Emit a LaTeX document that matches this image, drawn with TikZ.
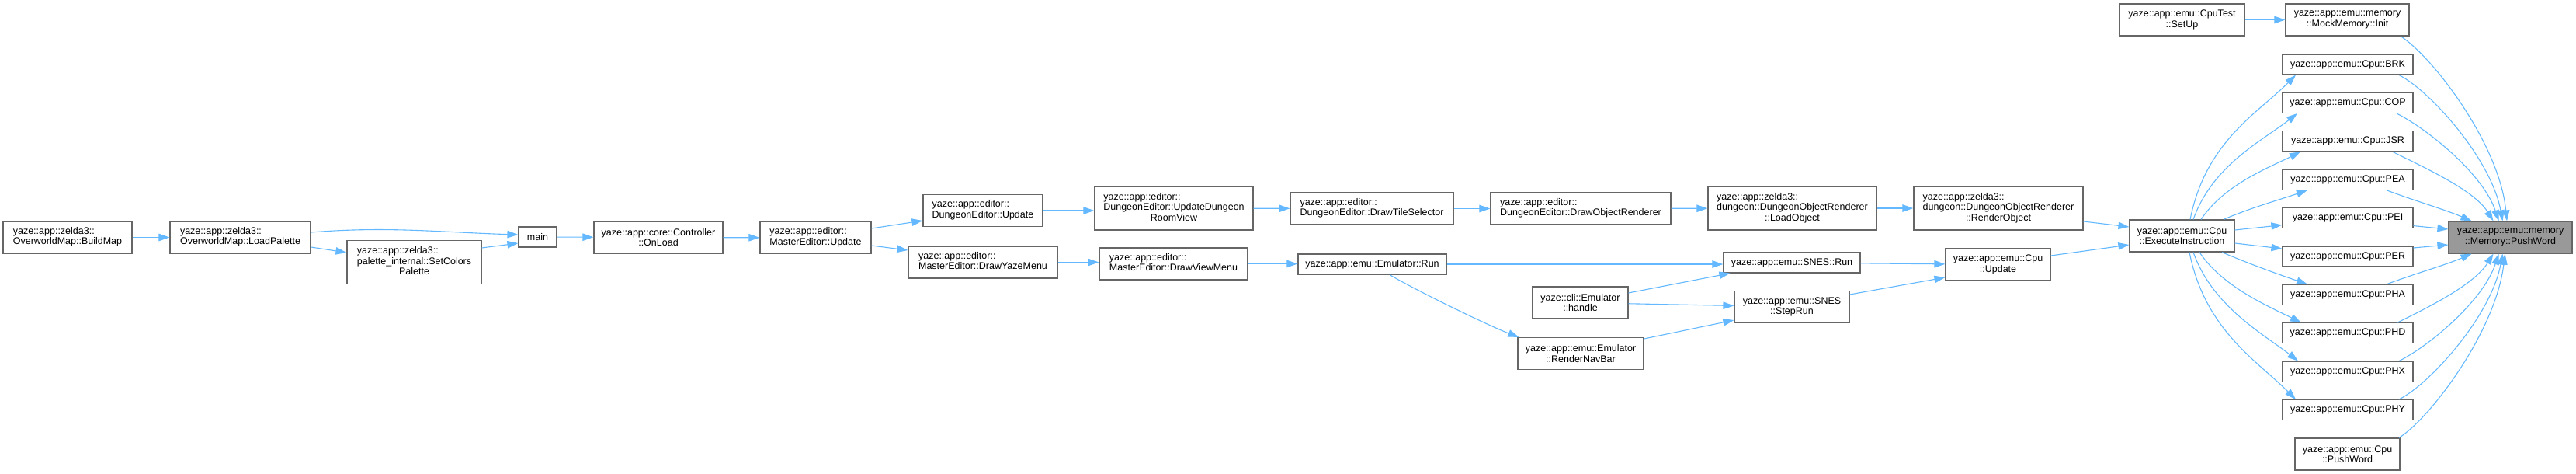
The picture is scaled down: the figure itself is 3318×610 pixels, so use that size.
\documentclass[tikz,border=0pt]{standalone}
\usepackage{fontspec}
\setmainfont{Liberation Sans}
\usepackage{tikz}
\usetikzlibrary{arrows.meta}
\definecolor{edgeblue}{HTML}{63B8FF}
\definecolor{boxborder}{HTML}{666666}
\definecolor{hlfill}{HTML}{999999}
\newcommand{\fnfont}{\fontsize{12.5}{13.5}\selectfont}
% first lines left, last line centred (as doxygen does)
\newcommand{\fnlabel}[1]{\begin{tabular}{@{}l@{}}#1\end{tabular}}
\newcommand{\ctrline}[1]{\multicolumn{1}{@{}c@{}}{#1}}
\tikzset{
  % plain function box
  fnbox/.style={draw=boxborder, fill=white, line width=1.2pt,
                inner sep=0pt, font=\fnfont, align=center},
  % the function the graph is about
  hlbox/.style={fnbox, fill=hlfill},
  one/.style={minimum height=26pt},
  two/.style={minimum height=41pt},
  three/.style={minimum height=56pt},
  wd/.style={minimum width=#1},
  callarrow/.style={draw=edgeblue, line width=1.1pt,
                    -{Triangle[length=14pt,width=9.5pt]}},
}

\begin{document}
\begin{tikzpicture}[x=1pt,y=-1pt]
  \useasboundingbox (0,0) rectangle (3318,610);
  % callers, left to right
  \node[fnbox, two, wd=166pt]   (buildmap)  at (87,305.5)
    {\fnlabel{yaze::app::zelda3::\\OverworldMap::BuildMap}};
  \node[fnbox, two, wd=181pt]   (loadpal)   at (309.5,305.5)
    {\fnlabel{yaze::app::zelda3::\\OverworldMap::LoadPalette}};
  \node[fnbox, three, wd=173pt] (setcolors) at (533.5,337.5)
    {\fnlabel{yaze::app::zelda3::\\palette\_internal::SetColors\\\ctrline{Palette}}};
  \node[fnbox, one, wd=49pt]    (main)      at (692.5,305) {main};
  \node[fnbox, two, wd=166pt]   (onload)    at (848,305.5)
    {yaze::app::core::Controller\\::OnLoad};
  \node[fnbox, two, wd=143pt]   (meupdate)  at (1050.5,306)
    {\fnlabel{yaze::app::editor::\\MasterEditor::Update}};
  \node[fnbox, two, wd=154pt]   (deupdate)  at (1266,271)
    {\fnlabel{yaze::app::editor::\\DungeonEditor::Update}};
  \node[fnbox, two, wd=192pt]   (yazemenu)  at (1266,337.5)
    {\fnlabel{yaze::app::editor::\\MasterEditor::DrawYazeMenu}};
  \node[fnbox, three, wd=204pt] (roomview)  at (1512,268)
    {\fnlabel{yaze::app::editor::\\DungeonEditor::UpdateDungeon\\\ctrline{RoomView}}};
  \node[fnbox, two, wd=191pt]   (viewmenu)  at (1511.5,339.5)
    {\fnlabel{yaze::app::editor::\\MasterEditor::DrawViewMenu}};
  \node[fnbox, two, wd=210pt]   (tilesel)   at (1767,268.5)
    {\fnlabel{yaze::app::editor::\\DungeonEditor::DrawTileSelector}};
  \node[fnbox, two, wd=232pt]   (objrend)   at (2036,268.5)
    {\fnlabel{yaze::app::editor::\\DungeonEditor::DrawObjectRenderer}};
  \node[fnbox, three, wd=217pt] (loadobj)   at (2308.5,268)
    {\fnlabel{yaze::app::zelda3::\\dungeon::DungeonObjectRenderer\\\ctrline{::LoadObject}}};
  \node[fnbox, three, wd=218pt] (renderobj) at (2574,268)
    {\fnlabel{yaze::app::zelda3::\\dungeon::DungeonObjectRenderer\\\ctrline{::RenderObject}}};
  \node[fnbox, one, wd=191pt]   (emurun)    at (1767.5,340)
    {yaze::app::emu::Emulator::Run};
  \node[fnbox, two, wd=123pt]   (handle)    at (2035.5,389.5)
    {yaze::cli::Emulator\\::handle};
  \node[fnbox, two, wd=162pt]   (navbar)    at (2036,455)
    {yaze::app::emu::Emulator\\::RenderNavBar};
  \node[fnbox, one, wd=176pt]   (snesrun)   at (2308,338)
    {yaze::app::emu::SNES::Run};
  \node[fnbox, two, wd=148pt]   (steprun)   at (2308,395)
    {yaze::app::emu::SNES\\::StepRun};
  \node[fnbox, two, wd=135pt]   (cpuupdate) at (2573.5,340.5)
    {yaze::app::emu::Cpu\\::Update};
  \node[fnbox, two, wd=135pt]   (exec)      at (2810.5,303.5)
    {yaze::app::emu::Cpu\\::ExecuteInstruction};
  \node[fnbox, two, wd=161pt]   (setup)     at (2810.5,25.5)
    {yaze::app::emu::CpuTest\\::SetUp};
  \node[fnbox, two, wd=159pt]   (mockinit)  at (3023.5,25.5)
    {yaze::app::emu::memory\\::MockMemory::Init};
  \foreach \op [count=\i from 0] in {BRK,COP,JSR,PEA,PEI,PER,PHA,PHD,PHX,PHY}
    \node[fnbox, one, wd=168pt] (cpu\op) at (3024,{83+49.4*\i})
      {yaze::app::emu::Cpu::\op};
  \node[fnbox, two, wd=135pt]   (cpupush)   at (3023.5,584.5)
    {yaze::app::emu::Cpu\\::PushWord};
  \node[hlbox, two, wd=159pt]   (memword)   at (3233.5,305.5)
    {yaze::app::emu::memory\\::Memory::PushWord};

  % call edges
  \draw[callarrow] (buildmap) -- (loadpal);
  \draw[callarrow] ([yshift=6.5pt]loadpal.east)
    .. controls +(100,-8) and +(-100,-3) .. ([yshift=3pt]main.west);
  \draw[callarrow] ([yshift=-12.5pt]loadpal.east) -- ([yshift=12.5pt]setcolors.west);
  \draw[callarrow] ([yshift=18.5pt]setcolors.east) -- ([yshift=-8pt]main.west);
  \draw[callarrow] (main) -- (onload);
  \draw[callarrow] (onload) -- (meupdate);
  \draw[callarrow] ([yshift=12pt]meupdate.east) -- ([yshift=-13pt]deupdate.west);
  \draw[callarrow] ([yshift=-10pt]meupdate.east) -- ([yshift=15.5pt]yazemenu.west);
  \draw[callarrow] (deupdate.east) -- (deupdate.east -| roomview.west);
  \draw[callarrow] (yazemenu.east) -- (yazemenu.east -| viewmenu.west);
  \draw[callarrow] (roomview) -- (tilesel);
  \draw[callarrow] (tilesel) -- (objrend);
  \draw[callarrow] (objrend) -- (loadobj);
  \draw[callarrow] (loadobj) -- (renderobj);
  \draw[callarrow] ([yshift=-17pt]renderobj.east) -- ([yshift=11.5pt]exec.west);
  \draw[callarrow] (viewmenu.east) -- (viewmenu.east -| emurun.west);
  \draw[callarrow] (emurun.east) -- (emurun.east -| snesrun.west);
  \draw[callarrow] ([xshift=22.5pt]emurun.south)
    .. controls +(30,18) and +(-40,-15) .. ([xshift=2pt]navbar.north west);
  \draw[callarrow] ([yshift=12.5pt]handle.east) -- ([xshift=9pt]snesrun.south west);
  \draw[callarrow] (handle) -- (steprun);
  \draw[callarrow] ([yshift=19pt]navbar.east) -- ([yshift=-17pt]steprun.west);
  \draw[callarrow] (snesrun) -- (cpuupdate);
  \draw[callarrow] ([yshift=16pt]steprun.east) -- ([yshift=-16.5pt]cpuupdate.west);
  \draw[callarrow] ([yshift=11.5pt]cpuupdate.east) -- ([yshift=-11.5pt]exec.west);

  % ExecuteInstruction fans out to the opcodes
  \foreach \op/\sx/\tx/\ax/\ay/\bx/\by in
      {BRK/10.5/-67/20/-100/-50/50, COP/14.5/-65/25/-70/-45/35,
       JSR/24.5/-61/30/-45/-40/20, PEA/53.5/-52/35/-15/-35/12}
    \draw[callarrow] ([xshift=\sx pt]exec.north)
      .. controls +(\ax,\ay) and +(\bx,\by) .. ([xshift=\tx pt]cpu\op.south);
  \draw[callarrow] ([yshift=7.5pt]exec.east) -- ([yshift=-9pt]cpuPEI.west);
  \draw[callarrow] ([yshift=-9.5pt]exec.east) -- ([yshift=10pt]cpuPER.west);
  \foreach \op/\sx/\tx/\ax/\ay/\bx/\by in
      {PHA/51.5/-52/35/15/-35/-12, PHD/22.5/-60/30/45/-40/-20,
       PHX/14.5/-64/25/70/-45/-35, PHY/9.5/-67/20/100/-50/-50}
    \draw[callarrow] ([xshift=\sx pt]exec.south)
      .. controls +(\ax,\ay) and +(\bx,\by) .. ([xshift=\tx pt]cpu\op.north);

  % everything ends in Memory::PushWord
  \draw[callarrow] (setup) -- (mockinit);
  \draw[callarrow] ([xshift=68.5pt]mockinit.south)
    .. controls +(40,25) and +(-10,-100) .. ([xshift=-4.5pt]memword.north);
  \foreach \op/\sx/\tx/\ax/\ay/\bx/\by in
      {BRK/66/-10/40/20/-15/-80, COP/63/-15/40/20/-20/-60,
       JSR/58/-22/40/20/-25/-40, PEA/50/-50/40/15/-35/-15}
    \draw[callarrow] ([xshift=\sx pt]cpu\op.south)
      .. controls +(\ax,\ay) and +(\bx,\by) .. ([xshift=\tx pt]memword.north);
  \draw[callarrow] ([yshift=-10pt]cpuPEI.east) -- ([yshift=10.5pt]memword.west);
  \draw[callarrow] ([yshift=11pt]cpuPER.east) -- ([yshift=-9.5pt]memword.west);
  \foreach \op/\sx/\tx/\ax/\ay/\bx/\by in
      {PHA/50/-50/40/-15/-35/15, PHD/64/-22/40/-20/-25/40,
       PHX/66/-15/40/-20/-20/60, PHY/66/-10/40/-20/-15/80}
    \draw[callarrow] ([xshift=\sx pt]cpu\op.north)
      .. controls +(\ax,\ay) and +(\bx,\by) .. ([xshift=\tx pt]memword.south);
  \draw[callarrow] ([xshift=66.5pt]cpupush.north)
    .. controls +(40,-25) and +(-12,100) .. ([xshift=-7pt]memword.south);
\end{tikzpicture}
\end{document}
